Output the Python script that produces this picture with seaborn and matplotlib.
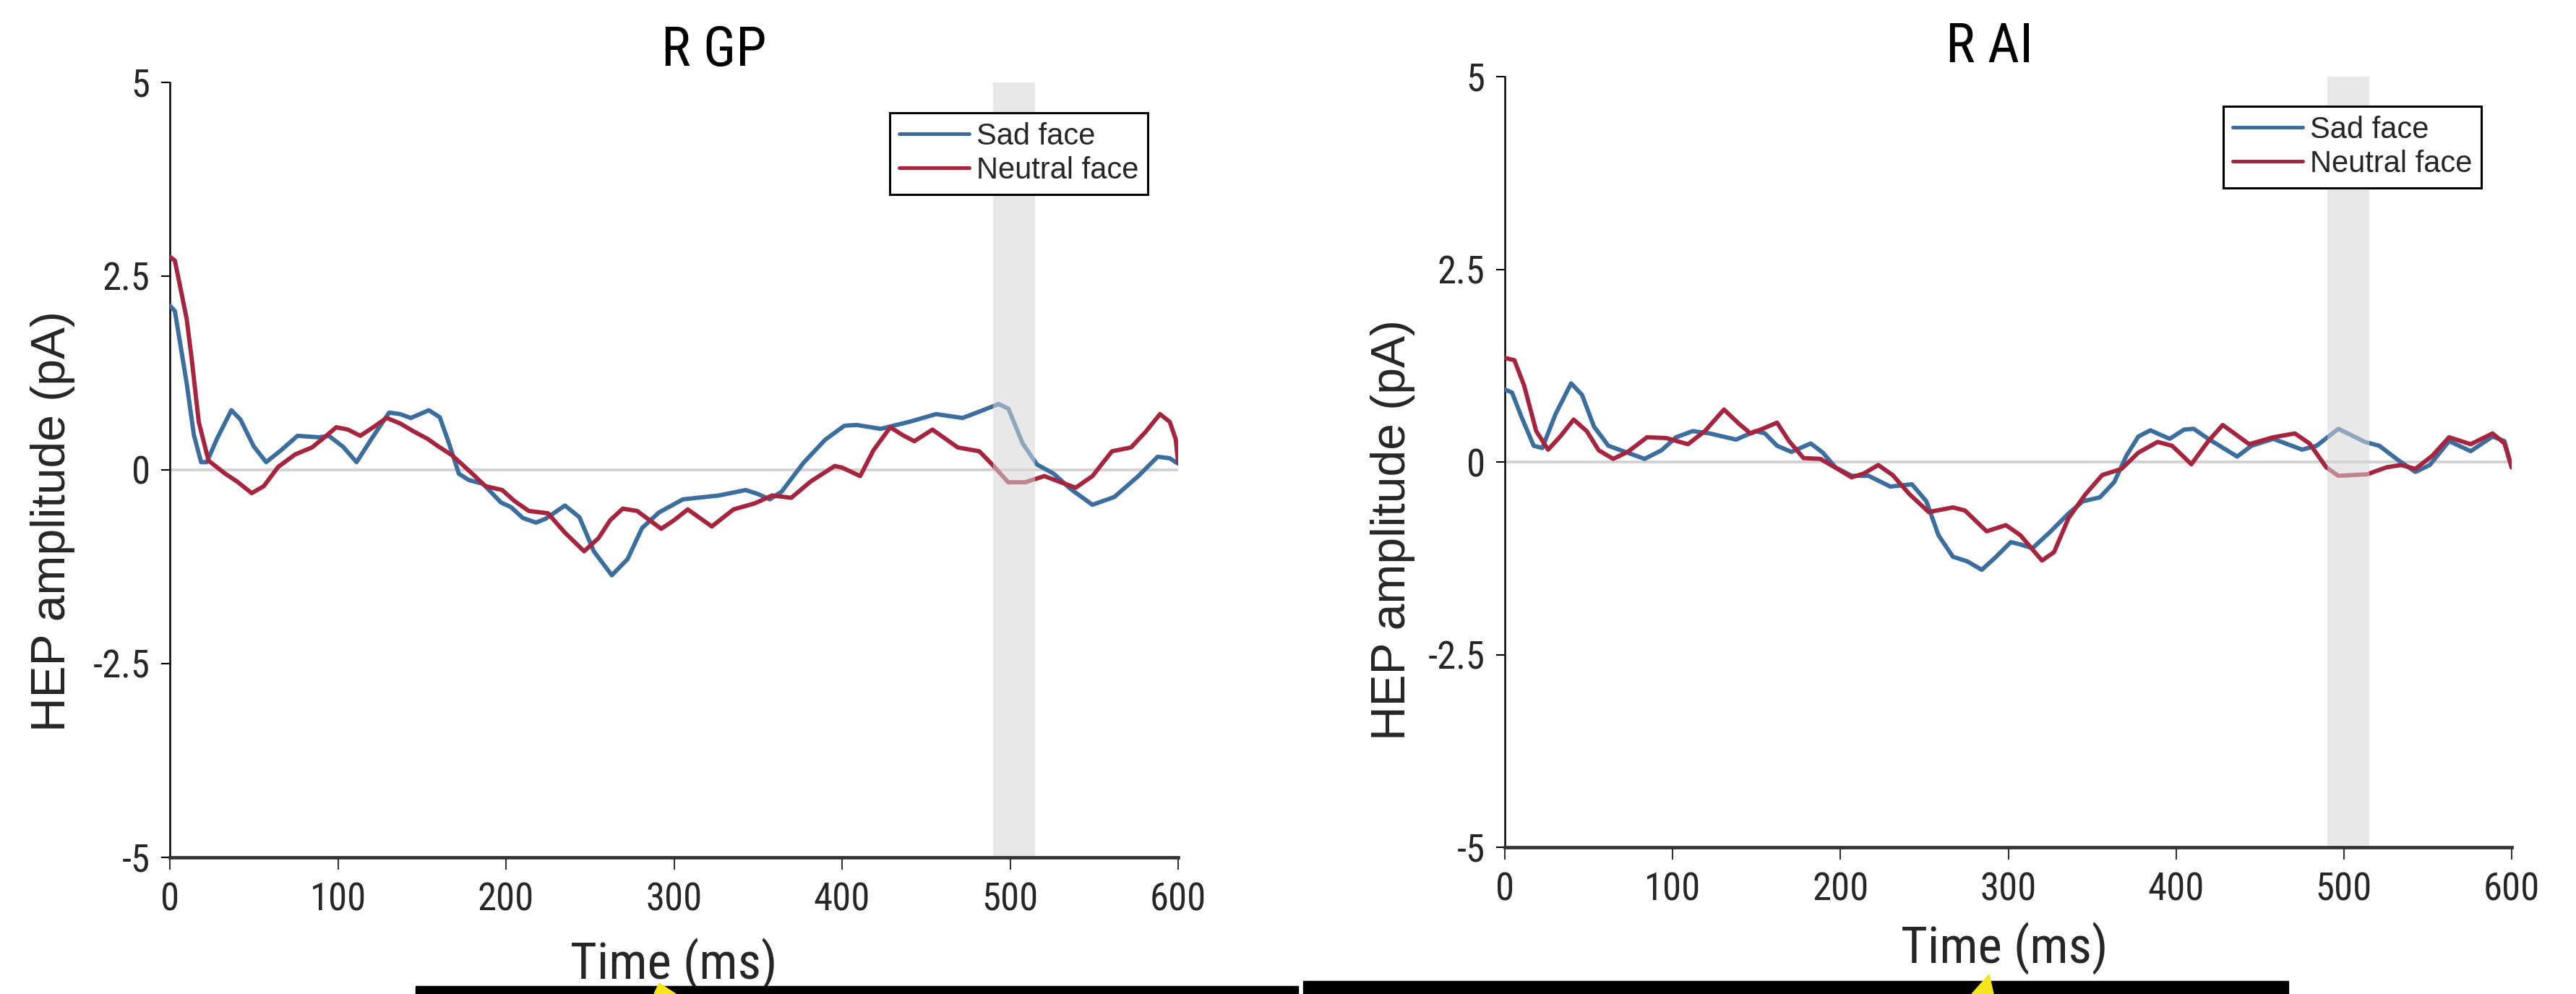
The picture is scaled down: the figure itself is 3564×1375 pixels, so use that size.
import numpy as np
import pandas as pd
import matplotlib
matplotlib.use("Agg")
import matplotlib.pyplot as plt
import seaborn as sns
from matplotlib import font_manager
from matplotlib.font_manager import FontProperties
from matplotlib.lines import Line2D
from matplotlib.patches import Rectangle, Polygon

# ---------------- data ----------------
time_ticks = [0, 100, 200, 300, 400, 500, 600]
amp_ticks = [-5, -2.5, 0, 2.5, 5]
amp_tick_labels = ["-5", "-2.5", "0", "2.5", "5"]
panel_titles = ["R GP", "R AI"]
conditions = ["Sad face", "Neutral face"]
sig_window = [490, 515]
x_label = "Time (ms)"
y_label = "HEP amplitude (pA)"

gp_sad_t = [0, 3, 10, 14.3, 18.6, 22, 28, 36.6, 42, 50, 57.3, 66, 76, 88.9, 94.6, 103,
            111.1, 120, 130.5, 137, 143.4, 154.1, 160.6, 166, 172, 177.8, 186.4, 197, 203,
            210, 217.9, 223.6, 235.1, 243.7, 252.3, 263, 272.4, 281, 291, 305.3, 326.8,
            342.6, 349.8, 357, 364.1, 377, 390, 401.4, 408.6, 423, 440, 456, 471.7, 480.3,
            493.2, 499, 507.5, 516, 526, 536.2, 549, 562, 576.3, 587.8, 595, 600]
gp_sad_v = [2.12, 2.05, 1.12, 0.45, 0.10, 0.10, 0.40, 0.77, 0.65, 0.30, 0.10, 0.25, 0.44,
            0.42, 0.44, 0.30, 0.10, 0.40, 0.74, 0.72, 0.67, 0.77, 0.68, 0.35, -0.05, -0.13,
            -0.18, -0.42, -0.48, -0.62, -0.68, -0.63, -0.46, -0.61, -1.05, -1.36, -1.15,
            -0.75, -0.55, -0.38, -0.33, -0.26, -0.31, -0.38, -0.28, 0.09, 0.39, 0.57, 0.58,
            0.53, 0.62, 0.72, 0.67, 0.74, 0.85, 0.79, 0.34, 0.07, -0.05, -0.25, -0.45,
            -0.35, -0.08, 0.17, 0.15, 0.08]

gp_neu_t = [0, 3, 10, 12.9, 17.2, 23, 33, 40, 48.7, 55.9, 64.5, 74.6, 84.6, 92, 99, 106,
            113.3, 121, 129, 137, 144.8, 153.4, 160, 167.8, 173.5, 180, 187.8, 197.8, 205,
            213.6, 225, 235.1, 246.5, 255.1, 262, 269.5, 278.1, 292.4, 300, 308.2, 322.5,
            335.4, 348.3, 358.4, 369.8, 381.3, 395.6, 400, 410.8, 418.6, 428.7, 436, 443,
            453.8, 468.8, 481.7, 488.9, 498.9, 509, 520.4, 529, 539, 549, 560.6, 572, 580.6,
            589.2, 595, 598.5, 600]
gp_neu_v = [2.75, 2.70, 1.95, 1.45, 0.62, 0.12, -0.05, -0.15, -0.30, -0.21, 0.04, 0.20,
            0.29, 0.42, 0.55, 0.52, 0.44, 0.55, 0.67, 0.60, 0.50, 0.40, 0.30, 0.19, 0.08,
            -0.05, -0.21, -0.26, -0.40, -0.53, -0.56, -0.81, -1.05, -0.88, -0.65, -0.50,
            -0.53, -0.76, -0.65, -0.51, -0.73, -0.51, -0.43, -0.33, -0.36, -0.15, 0.05,
            0.03, -0.08, 0.25, 0.55, 0.45, 0.37, 0.52, 0.29, 0.24, 0.08, -0.16, -0.16,
            -0.08, -0.15, -0.23, -0.08, 0.24, 0.29, 0.49, 0.72, 0.62, 0.40, 0.10]

ai_sad_t = [0, 4.3, 10, 17.2, 22.3, 30.2, 39.5, 46, 53.1, 61.7, 71.8, 83.3, 93.3, 102, 112,
            122, 137.8, 149.3, 155, 162.2, 170.8, 182.3, 189.5, 197, 206.7, 216.8, 229.7,
            242.6, 251.2, 258.4, 267, 275.6, 284.2, 292.8, 301.5, 307.2, 314.4, 324.4,
            335.9, 344.5, 354.6, 363.2, 370.4, 377.5, 384.7, 396.2, 404.8, 410.5, 419.2,
            436.4, 445, 457.9, 475.1, 483.8, 496.7, 512.5, 521.1, 532.6, 542.6, 551.2,
            562.7, 575.6, 588.6, 595.7, 600]
ai_sad_v = [0.94, 0.90, 0.58, 0.21, 0.18, 0.62, 1.02, 0.87, 0.46, 0.21, 0.13, 0.04, 0.15,
            0.32, 0.40, 0.37, 0.29, 0.40, 0.37, 0.21, 0.13, 0.24, 0.12, -0.07, -0.18,
            -0.18, -0.32, -0.29, -0.51, -0.95, -1.23, -1.29, -1.40, -1.23, -1.04, -1.07,
            -1.12, -0.92, -0.67, -0.51, -0.46, -0.26, 0.08, 0.33, 0.41, 0.30, 0.42, 0.43,
            0.30, 0.07, 0.21, 0.30, 0.16, 0.21, 0.43, 0.26, 0.21, 0.02, -0.13, -0.04,
            0.27, 0.14, 0.33, 0.27, -0.07]

ai_neu_t = [0, 5.7, 11.5, 18.7, 25.8, 33, 41, 48.8, 56, 64.6, 73.2, 84.7, 96.2, 109.1,
            119.2, 130.6, 139.3, 146.4, 153.6, 162.2, 169.4, 178, 188, 196.7, 206.7, 213.9,
            222.5, 231.1, 241.2, 252.6, 267, 274.2, 287.1, 298.6, 307.2, 320.1, 327.3,
            335.9, 346, 356, 367.5, 377.5, 389, 397.6, 403, 409.1, 419.2, 427.8, 443.6,
            457.9, 470.8, 479.5, 489.5, 496.7, 513.9, 525.4, 534, 542.6, 552.7, 562.7,
            575.6, 588.6, 595.7, 600]
ai_neu_v = [1.35, 1.32, 0.99, 0.40, 0.16, 0.33, 0.55, 0.40, 0.15, 0.04, 0.13, 0.32, 0.31,
            0.23, 0.40, 0.68, 0.50, 0.37, 0.43, 0.51, 0.27, 0.05, 0.04, -0.07, -0.20,
            -0.15, -0.04, -0.17, -0.42, -0.65, -0.59, -0.63, -0.90, -0.82, -0.95, -1.28,
            -1.17, -0.73, -0.42, -0.17, -0.09, 0.12, 0.26, 0.21, 0.10, -0.03, 0.27, 0.48,
            0.23, 0.32, 0.37, 0.24, -0.07, -0.18, -0.16, -0.07, -0.04, -0.09, 0.08, 0.32,
            0.23, 0.37, 0.24, -0.07]

# ---------------- style ----------------
sns.set_style("white")
ttf = font_manager.fontManager.ttflist
names = {f.name for f in ttf}
REG = "Liberation Sans" if "Liberation Sans" in names else "DejaVu Sans"
plt.rcParams["font.family"] = [REG, "DejaVu Sans"]


def find_condensed():
    def ok(f):
        return f.weight in (400, "normal", "regular", "book") and f.style == "normal"
    prefs = [
        lambda f: "Liberation Sans Narrow" in f.name,
        lambda f: "Roboto Condensed" in f.name,
        lambda f: f.name == "Roboto" and "condensed" in str(f.stretch),
        lambda f: "Narrow" in f.name,
        lambda f: "Condensed" in f.name and "Sans" in f.name,
        lambda f: "condensed" in str(f.stretch) and "Sans" in f.name,
        lambda f: "Condensed" in f.name or "condensed" in str(f.stretch),
    ]
    for p in prefs:
        c = [f for f in ttf if p(f) and ok(f)]
        if c:
            c.sort(key=lambda f: f.fname)
            return c[0].fname
        c = [f for f in ttf if p(f) and f.style == "normal" and "Bold" not in f.fname]
        if c:
            c.sort(key=lambda f: f.fname)
            return c[0].fname
    return None


COND_PATH = find_condensed()


def cond_fp(size):
    if COND_PATH:
        return FontProperties(fname=COND_PATH, size=size)
    return FontProperties(family="DejaVu Sans", stretch="condensed", size=size)


BLUE = "#3b6e9f"
RED = "#a6243d"
palette = {conditions[0]: BLUE, conditions[1]: RED}
TXT = "#262626"

W, H = 3564, 1375
fig = plt.figure(figsize=(W / 100, H / 100), dpi=100)
fig.patch.set_facecolor("white")


def rect(x0, x1, y0, y1):
    return [x0 / W, 1 - y1 / H, (x1 - x0) / W, (y1 - y0) / H]


axL = fig.add_axes(rect(235, 1630, 114, 1186))
axR = fig.add_axes(rect(2082, 3475, 106, 1172))

panels = [
    (axL, (gp_sad_t, gp_sad_v), (gp_neu_t, gp_neu_v), (0.970, 0.9608)),
    (axR, (ai_sad_t, ai_sad_v), (ai_neu_t, ai_neu_v), (0.970, 0.9615)),
]

for ax, sad, neu, leg_anchor in panels:
    df = pd.concat([
        pd.DataFrame({"time": sad[0], "amp": sad[1], "condition": conditions[0]}),
        pd.DataFrame({"time": neu[0], "amp": neu[1], "condition": conditions[1]}),
    ])
    ax.axhline(0, color="#d2d2d2", lw=2.8, zorder=1)
    sns.lineplot(data=df, x="time", y="amp", hue="condition", palette=palette,
                 estimator=None, linewidth=4.3, ax=ax, legend=False, zorder=3)
    for ln in ax.get_lines():
        ln.set_solid_joinstyle("round")
        ln.set_solid_capstyle("round")
    ax.axvspan(sig_window[0], sig_window[1], color="#d6d6d6", alpha=0.55, lw=0, zorder=5)

    ax.set_xlim(0, 600)
    ax.set_ylim(-5, 5)
    ax.set_xticks(time_ticks)
    ax.set_xticklabels([str(t) for t in time_ticks])
    ax.set_yticks(amp_ticks)
    ax.set_yticklabels(amp_tick_labels)
    ax.set_xlabel("")
    ax.set_ylabel("")
    for s in ["top", "right"]:
        ax.spines[s].set_visible(False)
    ax.spines["left"].set_color("black")
    ax.spines["left"].set_linewidth(1.8)
    ax.spines["bottom"].set_color("#333333")
    ax.spines["bottom"].set_linewidth(3.4)
    ax.spines["bottom"].set_zorder(6)
    ax.tick_params(axis="y", direction="out", length=8.6, width=1.5, color="black",
                   pad=11, labelcolor=TXT, left=True)
    ax.tick_params(axis="x", direction="out", length=12, width=1.5, color="#333333",
                   pad=12, labelcolor=TXT, bottom=True)
    for lab in ax.get_xticklabels() + ax.get_yticklabels():
        lab.set_fontproperties(cond_fp(38))
    ax.set_facecolor("white")

    handles = [Line2D([0], [0], color=BLUE, lw=3.6), Line2D([0], [0], color=RED, lw=3.6)]
    leg = ax.legend(handles, conditions, loc="upper right", bbox_to_anchor=leg_anchor,
                    borderaxespad=0, frameon=True, fancybox=False, edgecolor="black",
                    framealpha=1, fontsize=30, handlelength=2.33, handletextpad=0.25,
                    borderpad=0.3, labelspacing=0.18)
    leg.get_frame().set_linewidth(2.2)
    leg.set_zorder(10)
    for t in leg.get_texts():
        t.set_color(TXT)

# titles, axis labels
fig.text(988 / W, 1 - 70 / H, panel_titles[0], ha="center", va="center",
         fontproperties=cond_fp(55), color="black")
fig.text(2753 / W, 1 - 66 / H, panel_titles[1], ha="center", va="center",
         fontproperties=cond_fp(55), color="black")
fig.text(932 / W, 1 - 1334 / H, x_label, ha="center", va="center",
         fontproperties=cond_fp(51), color=TXT)
fig.text(2773 / W, 1 - 1312 / H, x_label, ha="center", va="center",
         fontproperties=cond_fp(51), color=TXT)
fig.text(73 / W, 1 - 721 / H, y_label, ha="center", va="center", rotation=90,
         fontsize=47.5, family=[REG, "DejaVu Sans"], color=TXT)
fig.text(1927 / W, 1 - 733 / H, y_label, ha="center", va="center", rotation=90,
         fontsize=47.5, family=[REG, "DejaVu Sans"], color=TXT)

# black strips and yellow arrow tips at the bottom edge of the image
fig.patches.append(Rectangle((575 / W, 0), (1796 - 575) / W, 11 / H,
                             transform=fig.transFigure, color="black", zorder=20))
fig.patches.append(Rectangle((1803 / W, 0), (3166 - 1803) / W, 18 / H,
                             transform=fig.transFigure, color="black", zorder=20))
fig.patches.append(Polygon([(905 / W, 1 - 1375 / H), (912 / W, 1 - 1360 / H),
                            (935 / W, 1 - 1375 / H)], closed=True,
                           transform=fig.transFigure, color="#f5e61a", zorder=21))
fig.patches.append(Polygon([(2728 / W, 1 - 1375 / H), (2752 / W, 1 - 1348 / H),
                            (2758 / W, 1 - 1375 / H)], closed=True,
                           transform=fig.transFigure, color="#f5e61a", zorder=21))

fig.savefig("out.png", dpi=100, facecolor="white")
